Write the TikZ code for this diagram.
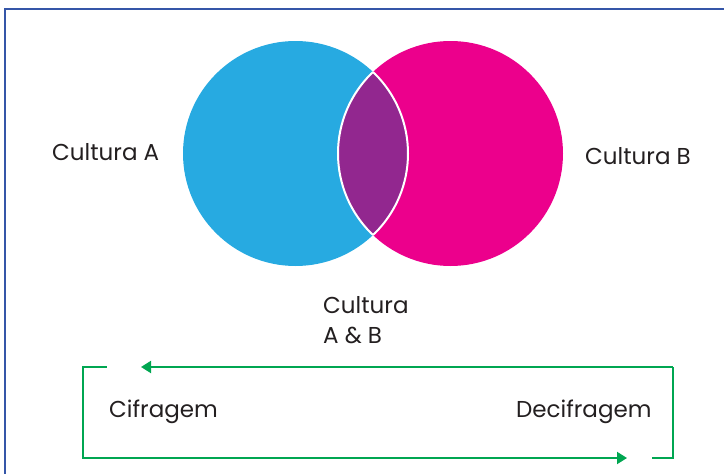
\documentclass[tikz,border=0pt]{standalone}
\usepackage{fontspec}
\setmainfont{Poppins}
\usetikzlibrary{arrows.meta}
\definecolor{cyanA}{HTML}{27AAE1}
\definecolor{magB}{HTML}{EC008C}
\definecolor{purAB}{HTML}{92278F}
\definecolor{frameblue}{HTML}{3556A8}
\definecolor{greenL}{HTML}{00A651}
\definecolor{txt}{HTML}{231F20}
\tikzset{
  lbl/.style={font=\fontsize{23}{30}\selectfont, text=txt, inner sep=0pt, align=left, anchor=base west},
  loopline/.style={draw=greenL, line width=2pt},
  looparrow/.style={loopline, -{Triangle[length=10pt,width=12pt]}}
}
\begin{document}
\begin{tikzpicture}[x=1pt,y=-1pt]
\useasboundingbox (0,0) rectangle (724,474);
\draw[frameblue, line width=2.5pt] (5,480) -- (5,9) -- (730,9);
% circles
\fill[cyanA] (295.5,153.5) circle (112.5);
\fill[magB] (450.5,153.5) circle (112.5);
\begin{scope}
  \clip (295.5,153.5) circle (112.5);
  \fill[purAB] (450.5,153.5) circle (112.5);
\end{scope}
\begin{scope}
  \clip (295.5,153.5) circle (112.5);
  \draw[white, line width=2pt] (450.5,153.5) circle (112.5);
\end{scope}
\begin{scope}
  \clip (450.5,153.5) circle (112.5);
  \draw[white, line width=2pt] (295.5,153.5) circle (112.5);
\end{scope}
% labels
\node[lbl] (ca) at (52,160) {Cultura A};
\node[lbl] (cb) at (585,164.5) {Cultura B};
\node[lbl, anchor=north west] (cab) at (323,292) {\strut Cultura\\\strut A \& B};
\node[lbl] (cif) at (109,417) {Cifragem};
\node[lbl] (dec) at (516,417) {Decifragem};
% loop
\coordinate (tl) at (83,367);
\coordinate (tr) at (673,367);
\coordinate (br) at (673,458);
\coordinate (bl) at (83,458);
\coordinate (tlend) at (106,367);
\coordinate (tarrow) at (141,367);
\coordinate (barrow) at (627,458);
\coordinate (brstart) at (652,458);
\draw[loopline, line cap=rect] (tlend) -- (tl) -- (bl);
\draw[looparrow] (tr) -- (tarrow);
\draw[loopline] (tr) -- (br) -- (brstart);
\draw[looparrow] (bl) -- (barrow);
\end{tikzpicture}
\end{document}
